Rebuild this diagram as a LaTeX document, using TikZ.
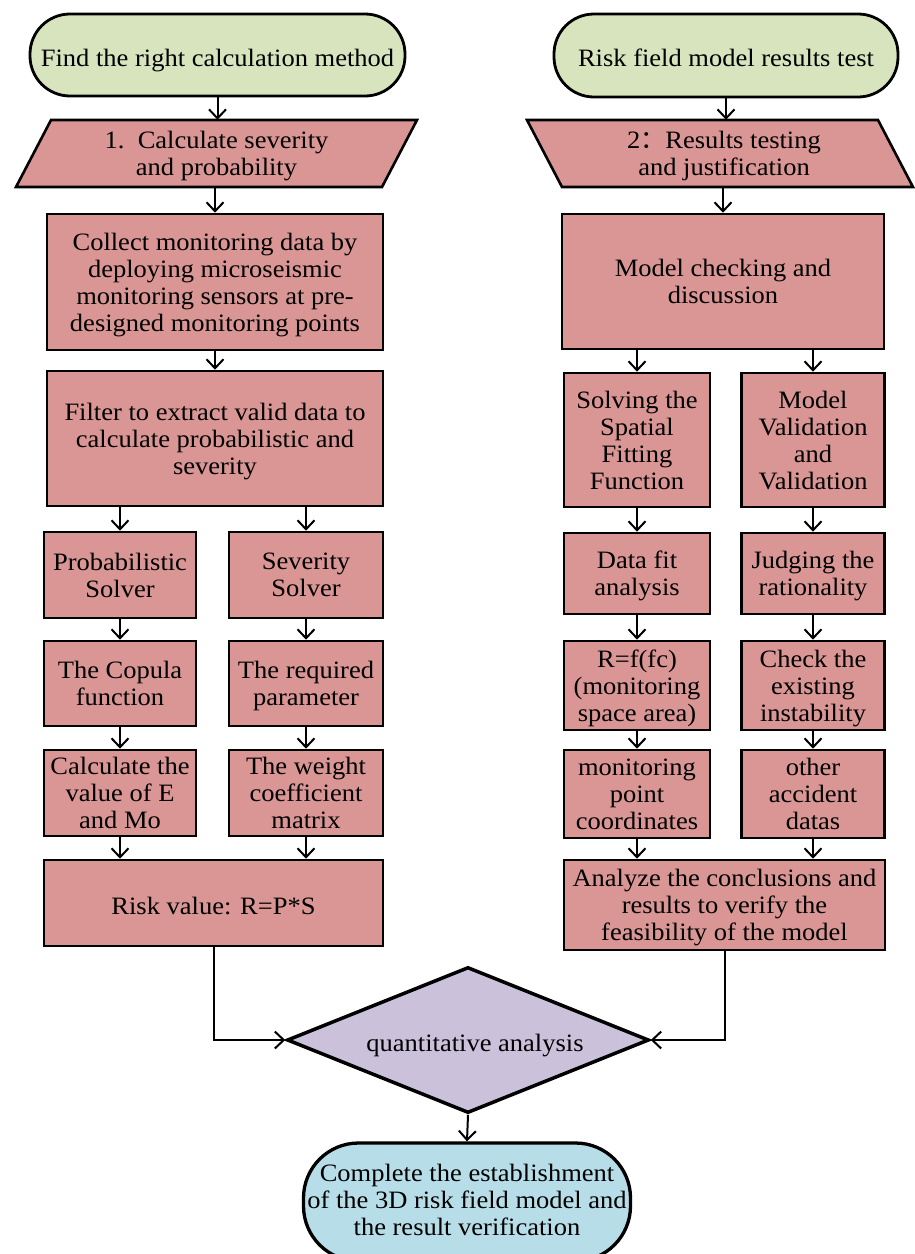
\documentclass[tikz,border=0pt]{standalone}
\usepackage{fontspec}
\setmainfont[FakeStretch=1.06]{Liberation Serif}
\newfontfamily\cjk{Noto Sans CJK SC}
\usetikzlibrary{arrows.meta,shapes.geometric}
\definecolor{greenc}{HTML}{D7E4BD}
\definecolor{pinkc}{HTML}{D99694}
\definecolor{purplec}{HTML}{CCC1DA}
\definecolor{bluec}{HTML}{B7DEE8}
\tikzset{
  txt/.style={font=\fontsize{25}{27}\selectfont, align=center, inner sep=0pt,
    execute at begin node={\rule{0pt}{28pt}},
    execute at end node={\rule[-6pt]{0pt}{6pt}}},
  ml/.style={text depth=-8pt},
  box/.style={txt, draw, line width=2.6pt, fill=pinkc, rectangle},
  term/.style={txt, draw, line width=2.8pt, rectangle, rounded corners=40pt},
  arr/.style={line width=2pt, -{Straight Barb[length=9pt,width=17pt,line width=2pt]}},
}
\begin{document}
\begin{tikzpicture}[x=1pt,y=-1pt]
\useasboundingbox (0,0) rectangle (915,1254);
\clip (0,0) rectangle (915,1254);
% terminals
\node[term, fill=greenc, minimum width=375pt, minimum height=82pt] (s1) at (217.5,55) {Find the right calculation method};
\node[term, fill=greenc, minimum width=344pt, minimum height=83pt] (s2) at (726,55.5) {Risk field model results test};
% parallelograms
\draw[line width=2.6pt, fill=pinkc] (51,120) -- (417,120) -- (382,187) -- (16,187) -- cycle;
\node[txt, ml, minimum width=330pt, minimum height=67pt] (p1) at (216.5,153.5) {1.\ \ Calculate severity\\and probability};
\draw[line width=2.6pt, fill=pinkc] (527,120) -- (878,120) -- (913,187) -- (562,187) -- cycle;
\node[txt, ml, minimum width=330pt, minimum height=67pt] (p2) at (724,153.5) {2{\cjk ：}Results testing\\and justification};
% left column
\node[box, ml, minimum width=336pt, minimum height=136pt] (A) at (215,282) {Collect monitoring data by\\deploying microseismic\\monitoring sensors at pre-\\designed monitoring points};
\node[box, ml, minimum width=336pt, minimum height=135pt] (B) at (215,438.5) {Filter to extract valid data to\\calculate probabilistic and\\severity};
\node[box, ml, minimum width=152pt, minimum height=86pt] (prob) at (120,575) {Probabilistic\\Solver};
\node[box, ml, minimum width=154pt, minimum height=86pt] (sev) at (306,575) {Severity\\Solver};
\node[box, ml, minimum width=152pt, minimum height=85pt] (cop) at (120,683.5) {The Copula\\function};
\node[box, ml, minimum width=154pt, minimum height=85pt] (req) at (306,683.5) {The required\\parameter};
\node[box, ml, minimum width=152pt, minimum height=86pt] (calc) at (120,793) {Calculate the\\value of E\\and Mo};
\node[box, ml, minimum width=154pt, minimum height=86pt] (wt) at (306,793) {The weight\\coefficient\\matrix};
\node[box, minimum width=339pt, minimum height=86pt] (risk) at (213.5,903) {Risk value: R=P*S};
% right column
\node[box, ml, minimum width=322pt, minimum height=135pt] (M) at (723,281.5) {Model checking and\\discussion};
\node[box, ml, minimum width=146pt, minimum height=134pt] (sol) at (637,440) {Solving the\\Spatial\\Fitting\\Function};
\node[box, ml, minimum width=143pt, minimum height=134pt] (val) at (813,440) {Model\\Validation\\and\\Validation};
\node[box, ml, minimum width=146pt, minimum height=81pt] (fit) at (637,573.5) {Data fit\\analysis};
\node[box, ml, minimum width=143pt, minimum height=81pt] (jud) at (813,573.5) {Judging the\\rationality};
\node[box, ml, minimum width=146pt, minimum height=89pt] (rf) at (637,685.5) {R=f(fc)\\(monitoring\\space area)};
\node[box, ml, minimum width=143pt, minimum height=89pt] (chk) at (813,685.5) {Check the\\existing\\instability};
\node[box, ml, minimum width=146pt, minimum height=88pt] (mp) at (637,794) {monitoring\\point\\coordinates};
\node[box, ml, minimum width=143pt, minimum height=88pt] (oth) at (813,794) {other\\accident\\datas};
\node[box, ml, minimum width=321pt, minimum height=90pt] (an) at (724.5,905) {Analyze the conclusions and\\results to verify the\\feasibility of the model};
% decision and end
\node[draw, line width=3.5pt, fill=purplec, diamond, aspect=2.48, minimum width=362pt, minimum height=146pt, inner sep=0pt] (dia) at (468,1040) {};
\node[txt] (diat) at (475,1040) {quantitative analysis};
\node[draw, fill=bluec, line width=3.3pt, rectangle, rounded corners=55pt, minimum width=327pt, minimum height=118pt] (end) at (467,1202) {};
\node[txt, ml] (endt) at (467,1200) {Complete the establishment\\of the 3D risk field model and\\the result verification};
% connectors left
\draw[arr] (s1.south) -- (s1.south |- p1.north);
\draw[arr] (p1.south -| A.north) -- (A.north);
\draw[arr] (A.south) -- (B.north);
\draw[arr] (prob.north |- B.south) -- (prob.north);
\draw[arr] (sev.north |- B.south) -- (sev.north);
\draw[arr] (prob.south) -- (cop.north);
\draw[arr] (sev.south) -- (req.north);
\draw[arr] (cop.south) -- (calc.north);
\draw[arr] (req.south) -- (wt.north);
\draw[arr] (calc.south) -- (calc.south |- risk.north);
\draw[arr] (wt.south) -- (wt.south |- risk.north);
% connectors right
\draw[arr] (s2.south) -- (s2.south |- p2.north);
\draw[arr] (p2.south -| M.north) -- (M.north);
\draw[arr] (sol.north |- M.south) -- (sol.north);
\draw[arr] (val.north |- M.south) -- (val.north);
\draw[arr] (sol.south) -- (fit.north);
\draw[arr] (val.south) -- (jud.north);
\draw[arr] (fit.south) -- (rf.north);
\draw[arr] (jud.south) -- (chk.north);
\draw[arr] (rf.south) -- (mp.north);
\draw[arr] (chk.south) -- (oth.north);
\draw[arr] (mp.south) -- (mp.south |- an.north);
\draw[arr] (oth.south) -- (oth.south |- an.north);
% to decision
\draw[arr] (risk.south) |- (dia.west);
\draw[arr] (an.south) |- (dia.east);
\draw[arr] (dia.south) -- (end.north);
\end{tikzpicture}
\end{document}
